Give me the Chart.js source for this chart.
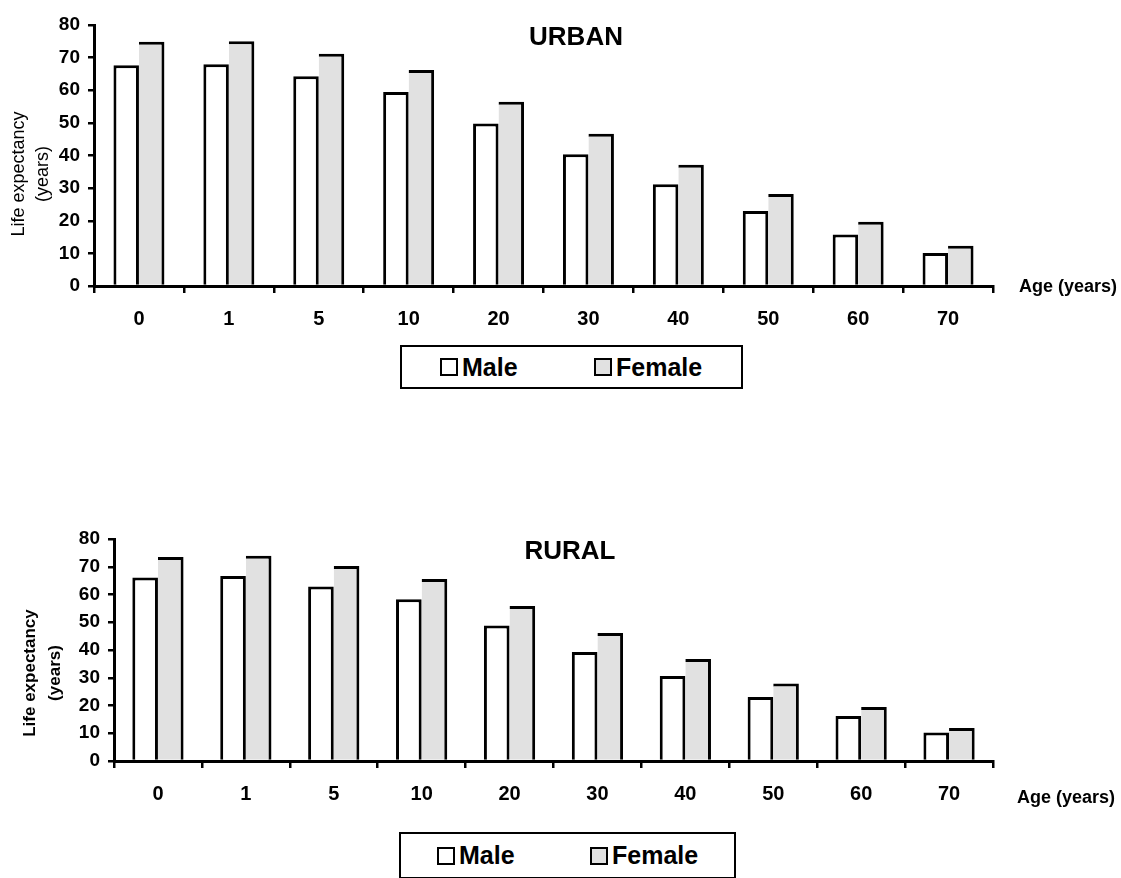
<!DOCTYPE html>
<html><head><meta charset="utf-8">
<script src="https://cdn.jsdelivr.net/npm/chart.js@4.4.1/dist/chart.umd.min.js"></script>
<style>
html,body{margin:0;padding:0;background:#fff;}
body{width:1121px;height:878px;position:relative;overflow:hidden;font-family:'Liberation Sans',Arial,sans-serif;}
.cw{position:absolute;left:0;width:1121px;}
#w1{top:0;height:345px;}
#w2{top:470px;height:360px;}
.legend{position:absolute;border:2px solid #000;box-sizing:border-box;background:#fff;}
.li{position:absolute;top:0;height:100%;display:flex;align-items:center;font-weight:bold;font-size:25px;color:#000;}
.sw{width:18px;height:18px;border:2px solid #000;box-sizing:border-box;margin-right:4px;}
</style></head>
<body>
<div class="cw" id="w1"><canvas id="c1"></canvas></div>
<div class="cw" id="w2"><canvas id="c2"></canvas></div>
<div class="legend" style="left:400px;top:345px;width:343px;height:44px;">
  <div class="li" style="left:38px;"><span class="sw" style="background:#fff"></span>Male</div>
  <div class="li" style="left:192px;"><span class="sw" style="background:#e1e1e1"></span>Female</div>
</div>
<div class="legend" style="left:399px;top:832px;width:337px;height:47px;">
  <div class="li" style="left:36px;"><span class="sw" style="background:#fff"></span>Male</div>
  <div class="li" style="left:189px;"><span class="sw" style="background:#e1e1e1"></span>Female</div>
</div>
<script>
// ---- data ----
const ageGroups = ['0','1','5','10','20','30','40','50','60','70'];
const urbanMale   = [67.7, 68.0, 64.3, 59.5, 49.8, 40.4, 31.2, 23.0, 15.8, 10.1];
const urbanFemale = [74.9, 75.0, 71.2, 66.2, 56.5, 46.7, 37.2, 28.2, 19.7, 12.3];
const ruralMale   = [66.1, 66.7, 62.9, 58.3, 48.8, 39.3, 30.6, 23.1, 16.2, 10.3];
const ruralFemale = [73.5, 74.0, 70.3, 65.6, 55.9, 46.1, 36.8, 27.9, 19.5, 11.9];
const seriesNames = ['Male', 'Female'];
const yTickValues = [0, 10, 20, 30, 40, 50, 60, 70, 80];
const titles = ['URBAN', 'RURAL'];
const xAxisLabel = 'Age (years)';
const yAxisLines = ['Life expectancy', '(years)'];

const FONT = "'Liberation Sans', Arial, sans-serif";

const extraText = {
  id: 'extraText',
  afterDraw(chart, args, o) {
    const ctx = chart.ctx;
    ctx.save();
    ctx.fillStyle = '#000';
    ctx.textBaseline = 'middle';
    ctx.textAlign = 'center';
    ctx.font = 'bold 26px ' + FONT;
    ctx.fillText(o.title, o.titleX, o.titleY);
    ctx.textAlign = 'left';
    ctx.font = 'bold 18px ' + FONT;
    ctx.fillText(o.xLabel, o.xLabelX, o.xLabelY);
    ctx.textAlign = 'center';
    ctx.font = o.yFont;
    o.yLines.forEach((t, i) => {
      ctx.save();
      ctx.translate(o.yX[i], o.yY);
      ctx.rotate(-Math.PI / 2);
      ctx.fillText(t, 0, 0);
      ctx.restore();
    });
    ctx.restore();
  }
};

function makeChart(id, male, female, cfg) {
  return new Chart(document.getElementById(id), {
    type: 'bar',
    data: {
      labels: ageGroups,
      datasets: [
        { label: seriesNames[0], data: male, backgroundColor: '#ffffff', borderColor: '#000',
          borderWidth: {top: 3, left: 3, right: 3, bottom: 0}, borderSkipped: false,
          barPercentage: 1, categoryPercentage: cfg.catPct },
        { label: seriesNames[1], data: female, backgroundColor: '#e1e1e1', borderColor: '#000',
          borderWidth: {top: 3, left: 0, right: 3, bottom: 0}, borderSkipped: false,
          barPercentage: 1, categoryPercentage: cfg.catPct }
      ]
    },
    options: {
      responsive: true,
      maintainAspectRatio: false,
      animation: false,
      events: [],
      layout: { padding: { top: cfg.top, right: 128, left: 0, bottom: 0 } },
      plugins: {
        legend: { display: false },
        tooltip: { enabled: false },
        title: { display: false },
        extraText: cfg.text
      },
      scales: {
        x: {
          offset: true,
          grid: { display: true, offset: true, drawOnChartArea: false, drawTicks: true, tickLength: 7, color: '#000', lineWidth: 2.5 },
          border: { display: true, color: '#000', width: 3 },
          ticks: { color: '#000', font: { family: FONT, size: 20, weight: 'bold' }, padding: 14, maxRotation: 0, autoSkip: false },
          afterFit: (s) => { s.height = cfg.xHeight; }
        },
        y: {
          min: 0, max: 80,
          afterBuildTicks: (s) => { s.ticks = yTickValues.map(v => ({ value: v })); },
          grid: { display: true, drawOnChartArea: false, drawTicks: true, tickLength: 6, color: '#000', lineWidth: 2.5 },
          border: { display: true, color: '#000', width: 3 },
          ticks: { color: '#000', font: { family: FONT, size: 19, weight: 'bold' }, padding: 8 },
          afterFit: (s) => { s.width = cfg.yWidth; }
        }
      }
    },
    plugins: [extraText]
  });
}

makeChart('c1', urbanMale, urbanFemale, {
  catPct: 0.567, top: 25, xHeight: 345 - 286, yWidth: 94,
  text: { title: titles[0], titleX: 576, titleY: 38, xLabel: xAxisLabel, xLabelX: 1019, xLabelY: 287,
          yLines: yAxisLines, yX: [19, 43], yY: 174, yFont: 'normal 18px ' + FONT }
});
makeChart('c2', ruralMale, ruralFemale, {
  catPct: 0.583, top: 69, xHeight: 360 - 291, yWidth: 114,
  text: { title: titles[1], titleX: 570, titleY: 82, xLabel: xAxisLabel, xLabelX: 1017, xLabelY: 328,
          yLines: yAxisLines, yX: [30, 55], yY: 203, yFont: 'bold 17px ' + FONT }
});
</script>
</body></html>
